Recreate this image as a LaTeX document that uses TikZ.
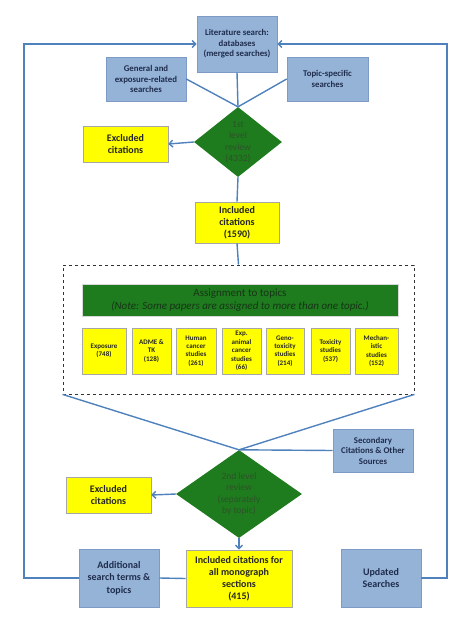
\documentclass[tikz,border=0pt]{standalone}
\usepackage{fontspec}
\setmainfont{Carlito}
\usepackage{xcolor}
\usepackage{tikz}
\usetikzlibrary{calc,arrows.meta,shapes.geometric,shadows}
\definecolor{bluefill}{HTML}{95B3D7}
\definecolor{blueedge}{HTML}{7E9BC8}
\definecolor{bluetext}{HTML}{1F2D4D}
\definecolor{yel}{HTML}{FFFF00}
\definecolor{yeledge}{HTML}{A6A6A6}
\definecolor{grn}{HTML}{1E7B1E}
\definecolor{grntext}{HTML}{2F5229}
\definecolor{bartext}{HTML}{173517}
\definecolor{flowc}{HTML}{4F81BD}
\tikzset{
  shad/.style={drop shadow={shadow xshift=1.3pt, shadow yshift=-1.3pt, opacity=0.35, fill=black!60}},
  bluebox/.style={rectangle, fill=bluefill, draw=blueedge, line width=0.6pt, text=bluetext,
    font=\bfseries\fontsize{8.8}{10.5}\selectfont, align=center, inner sep=1pt, shad},
  yelbox/.style={rectangle, fill=yel, draw=yeledge, line width=0.6pt, text=black!85,
    font=\bfseries\fontsize{10}{12}\selectfont, align=center, inner sep=1pt, shad},
  topicbox/.style={yelbox, font=\bfseries\fontsize{7}{8.4}\selectfont, minimum height=46pt},
  review/.style={diamond, fill=grn, draw=none, text=grntext, inner sep=0pt,
    font=\fontsize{9.5}{11.5}\selectfont, align=center},
  flow/.style={draw=flowc, line width=1.4pt},
  arr/.style={flow, -{Straight Barb[length=3.5pt, width=7pt]}},
}
\begin{document}
\begin{tikzpicture}[x=1pt, y=-1pt]
  \useasboundingbox (0,0) rectangle (474,632);
  % search boxes
  \node[bluebox, minimum width=80pt, minimum height=56pt] (lit) at (237,44) {Literature search:\\databases\\(merged searches)};
  \node[bluebox, minimum width=80pt, minimum height=44pt] (gen) at (146,79) {General and\\exposure-related\\searches};
  \node[bluebox, minimum width=81pt, minimum height=44pt] (topic) at (327.5,79) {Topic-specific\\searches};
  % first review
  \node[review, minimum width=88pt, minimum height=70pt] (rev1) at (238,142) {1st\\level\\review\\(4332)};
  \node[yelbox, minimum width=85pt, minimum height=36pt] (excl1) at (125.5,144) {Excluded\\citations};
  \node[yelbox, minimum width=84pt, minimum height=41pt] (incl) at (237,222.5) {Included\\citations\\(1590)};
  % topic assignment
  \node[draw=black!80, dashed, line width=0.8pt, minimum width=351pt, minimum height=129pt] (assign) at (238.5,329.5) {};
  \node[rectangle, fill=grn, draw=black!15, minimum width=316pt, minimum height=32pt, text=bartext,
    align=center, inner sep=1pt, shad, font=\fontsize{11}{13}\selectfont] (bar) at (240,300)
    {Assignment to topics\\\textit{(Note: Some papers are assigned to more than one topic.)}};
  \foreach \nm/\cx/\bw/\txt in {expo/104/44/{Exposure\\(748)}, adme/151.5/39/{ADME \&\\TK\\(128)},
      human/196/40/{Human\\cancer\\studies\\(261)}, animal/241.5/39/{Exp.\\animal\\cancer\\studies\\(66)},
      geno/285/38/{Geno-\\toxicity\\studies\\(214)}, tox/330.5/39/{Toxicity\\studies\\(537)},
      mech/376.5/43/{Mechan-\\istic\\studies\\(152)}}
    \node[topicbox, minimum width=\bw pt] (\nm) at (\cx,351) {\txt};
  % second review
  \node[bluebox, minimum width=80pt, minimum height=43pt] (sec) at (373,450.5) {Secondary\\Citations \& Other\\Sources};
  \node[review, minimum width=126pt, minimum height=88pt] (rev2) at (239,494) {2nd level\\review\\(separately\\by topic)};
  \node[yelbox, minimum width=85pt, minimum height=36pt] (excl2) at (108.5,495) {Excluded\\citations};
  \node[yelbox, minimum width=106pt, minimum height=57pt] (final) at (239,578.5) {Included citations for\\all monograph\\sections\\(415)};
  \node[bluebox, font=\bfseries\fontsize{10}{12.5}\selectfont, minimum width=80pt, minimum height=58pt] (add) at (119,578) {Additional\\search terms \&\\topics};
  \node[bluebox, font=\bfseries\fontsize{10}{12.5}\selectfont, minimum width=80pt, minimum height=58pt] (upd) at (381,578) {Updated\\Searches};
  \coordinate (lcorner) at (24,44);
  \coordinate (rcorner) at (447,44);
  % connectors
  \draw[flow] (lit.south) -- (rev1.north);
  \draw[flow] (gen.east) -- (rev1.north);
  \draw[flow] (topic.west) -- (rev1.north);
  \draw[arr] (rev1.west) -- (excl1.east);
  \draw[flow] (rev1.south) -- (incl.north);
  \draw[flow] (incl.south) -- (assign.north);
  \draw[flow] (assign.south west) -- (rev2.north);
  \draw[flow] (assign.south east) -- (rev2.north);
  \draw[flow] (sec.west) -- (rev2.north);
  \draw[arr] (rev2.west) -- (excl2.east);
  \draw[arr] (rev2.south) -- (final.north);
  \draw[flow] (final.west) -- (add.east);
  \draw[arr] (add.west) -| (lcorner) -- (lit.west);
  \draw[arr] (upd.east) -| (rcorner) -- (lit.east);
\end{tikzpicture}
\end{document}
